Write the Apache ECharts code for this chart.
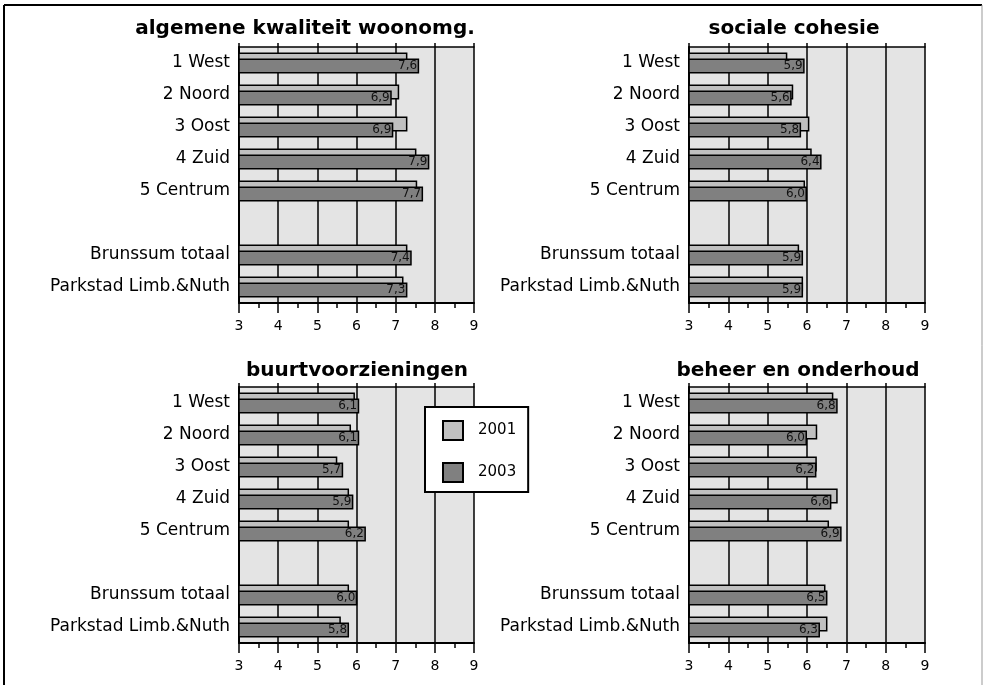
<!DOCTYPE html>
<html>
<head>
<meta charset="utf-8">
<script src="https://cdn.jsdelivr.net/npm/echarts@6/dist/echarts.min.js"></script>
<style>
  html, body { margin: 0; padding: 0; background: #fff; }
  #chart { width: 985px; height: 685px; }
</style>
</head>
<body>
<div id="chart"></div>
<script>
// ---- data ----
const categories = ['1 West', '2 Noord', '3 Oost', '4 Zuid', '5 Centrum', '', 'Brunssum totaal', 'Parkstad Limb.&Nuth'];
const seriesNames = ['2001', '2003'];
const panelTitles = ['algemene kwaliteit woonomg.', 'sociale cohesie', 'buurtvoorzieningen', 'beheer en onderhoud'];
const xTicks = [3, 4, 5, 6, 7, 8, 9];

const kwaliteit2001 = [7.30, 7.09, 7.30, 7.53, 7.55, null, 7.30, 7.20];
const kwaliteit2003 = [7.60, 6.90, 6.94, 7.86, 7.70, null, 7.41, 7.30];

const cohesie2001 = [5.50, 5.65, 6.06, 6.12, 5.95, null, 5.80, 5.90];
const cohesie2003 = [5.94, 5.61, 5.85, 6.37, 6.00, null, 5.90, 5.90];

const voorzieningen2001 = [5.96, 5.86, 5.51, 5.81, 5.81, null, 5.81, 5.60];
const voorzieningen2003 = [6.07, 6.07, 5.66, 5.92, 6.24, null, 6.02, 5.81];

const beheer2001 = [6.67, 6.26, 6.25, 6.78, 6.56, null, 6.47, 6.52];
const beheer2003 = [6.78, 6.00, 6.24, 6.62, 6.88, null, 6.52, 6.33];

// ---- layout ----
const FONT = '"DejaVu Sans", "Liberation Sans", Arial, sans-serif';
const panels = [
  { title: panelTitles[0], a: kwaliteit2001, b: kwaliteit2003, left: 239, top: 47, width: 235, tx: 305, ty: 29 },
  { title: panelTitles[1], a: cohesie2001, b: cohesie2003, left: 689, top: 47, width: 236, tx: 794, ty: 29 },
  { title: panelTitles[2], a: voorzieningen2001, b: voorzieningen2003, left: 239, top: 387, width: 235, tx: 357, ty: 371 },
  { title: panelTitles[3], a: beheer2001, b: beheer2003, left: 689, top: 387, width: 236, tx: 798, ty: 371 }
];
const PH = 256;

const grid = [], xAxis = [], yAxis = [], series = [];
const graphic = [
  { type: 'line', shape: { x1: 4, y1: 5, x2: 982, y2: 5 }, style: { stroke: '#000', lineWidth: 2 }, z: 10 },
  { type: 'line', shape: { x1: 4, y1: 5, x2: 4, y2: 690 }, style: { stroke: '#000', lineWidth: 2 }, z: 10 },
  { type: 'line', shape: { x1: 982, y1: 5, x2: 982, y2: 690 }, style: { stroke: '#999', lineWidth: 1 }, z: 10 }
];

const fmt = v => (v == null ? '' : v.toFixed(1).replace('.', ','));

panels.forEach((p, i) => {
  grid.push({
    left: p.left, top: p.top, width: p.width, height: PH,
    show: true, backgroundColor: '#e4e4e4', borderWidth: 0, containLabel: false
  });
  xAxis.push({
    type: 'value', gridIndex: i, position: 'bottom',
    min: xTicks[0], max: xTicks[xTicks.length - 1], interval: 1,
    axisLine: { show: true, onZero: false, lineStyle: { color: '#000', width: 2 } },
    axisTick: { show: true, length: 10, lineStyle: { color: '#000', width: 1.5 } },
    minorTick: { show: true, splitNumber: 2, length: 5, lineStyle: { color: '#000', width: 1.5 } },
    splitLine: { show: true, lineStyle: { color: '#000', width: 1.5 } },
    axisLabel: { fontFamily: FONT, fontSize: 14, color: '#000', margin: 16 }
  });
  xAxis.push({
    type: 'value', gridIndex: i, position: 'top',
    min: xTicks[0], max: xTicks[xTicks.length - 1], interval: 1,
    axisLine: { show: true, onZero: false, lineStyle: { color: '#000', width: 1.5 } },
    axisTick: { show: true, length: 4, lineStyle: { color: '#000', width: 1.5 } },
    axisLabel: { show: false },
    splitLine: { show: false }
  });
  yAxis.push({
    type: 'category', gridIndex: i, data: categories, inverse: true,
    axisLine: { show: true, onZero: false, lineStyle: { color: '#000', width: 2 } },
    axisTick: { show: false },
    splitLine: { show: false },
    axisLabel: { fontFamily: FONT, fontSize: 17, color: '#000', margin: 9 }
  });
  series.push({
    type: 'bar', name: seriesNames[0], xAxisIndex: 2 * i, yAxisIndex: i,
    data: p.a, barWidth: 15, barGap: '-60%',
    itemStyle: { color: '#c0c0c0', borderColor: '#000', borderWidth: 1.5 },
    emphasis: { disabled: true }, silent: true
  });
  series.push({
    type: 'bar', name: seriesNames[1], xAxisIndex: 2 * i, yAxisIndex: i,
    data: p.b, barWidth: 15, barGap: '-60%',
    itemStyle: { color: '#808080', borderColor: '#000', borderWidth: 1.5 },
    label: {
      show: true, position: 'insideRight', distance: 2,
      fontFamily: FONT, fontSize: 12, color: '#111',
      formatter: prm => fmt(prm.value)
    },
    emphasis: { disabled: true }, silent: true
  });
  graphic.push({
    type: 'text', x: p.tx, y: p.ty, z: 10,
    style: {
      text: p.title, fill: '#000', align: 'center', verticalAlign: 'middle',
      font: 'bold 20px ' + FONT
    }
  });
});

const chart = echarts.init(document.getElementById('chart'), null, { renderer: 'canvas' });
chart.setOption({
  animation: false,
  backgroundColor: '#fff',
  grid, xAxis, yAxis, series, graphic,
  legend: {
    data: seriesNames,
    orient: 'vertical',
    left: 425, top: 407,
    padding: [13, 12, 9, 17],
    itemWidth: 20, itemHeight: 19, itemGap: 21,
    backgroundColor: '#fff',
    borderColor: '#000', borderWidth: 2, borderRadius: 0,
    icon: 'rect',
    textStyle: { fontFamily: FONT, fontSize: 15, color: '#000', padding: [0, 0, 0, 10] },
    z: 20
  }
});
</script>
</body>
</html>
